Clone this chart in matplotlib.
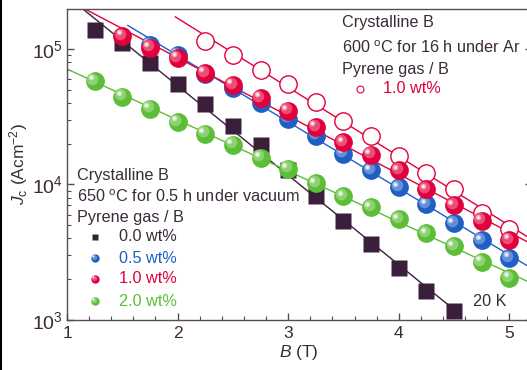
import numpy as np
import matplotlib
matplotlib.use("Agg")
import matplotlib.pyplot as plt
from matplotlib.transforms import offset_copy
from matplotlib.lines import Line2D

plt.rcParams['font.family'] = ['Liberation Sans', 'DejaVu Sans']
plt.rcParams['mathtext.fontset'] = 'custom'
plt.rcParams['mathtext.rm'] = 'Liberation Sans'
plt.rcParams['mathtext.it'] = 'Liberation Sans:italic'
plt.rcParams['mathtext.bf'] = 'Liberation Sans:bold'

# ---------------- data ----------------
B_black = [1.25, 1.5, 1.75, 2.0, 2.25, 2.5, 2.75, 3.0, 3.25, 3.5, 3.75, 4.0, 4.25, 4.5]
J_black = [1.38e5, 1.11e5, 7.9e4, 5.53e4, 3.94e4, 2.72e4, 1.94e4, 1.27e4, 8.2e3, 5.35e3,
           3.62e3, 2.41e3, 1.63e3, 1.16e3]

B_blue = [1.75, 2.0, 2.25, 2.5, 2.75, 3.0, 3.25, 3.5, 3.75, 4.0, 4.25, 4.5, 4.75, 5.0]
J_blue = [1.07e5, 9.0e4, 6.55e4, 5.17e4, 4.01e4, 3.06e4, 2.29e4, 1.69e4, 1.27e4, 9.5e3,
          7.13e3, 5.16e3, 3.87e3, 2.86e3]

B_red = [1.5, 1.75, 2.0, 2.25, 2.5, 2.75, 3.0, 3.25, 3.5, 3.75, 4.0, 4.25, 4.5, 4.75, 5.0]
J_red = [1.25e5, 1.02e5, 8.6e4, 6.67e4, 5.44e4, 4.36e4, 3.5e4, 2.65e4, 2.04e4, 1.66e4,
         1.27e4, 9.2e3, 7.0e3, 5.4e3, 3.9e3]

B_green = [1.25, 1.5, 1.75, 2.0, 2.25, 2.5, 2.75, 3.0, 3.25, 3.5, 3.75, 4.0, 4.25, 4.5, 4.75, 5.0]
J_green = [5.82e4, 4.44e4, 3.62e4, 2.9e4, 2.37e4, 1.97e4, 1.58e4, 1.31e4, 1.02e4, 8.16e3,
           6.78e3, 5.53e3, 4.36e3, 3.5e3, 2.67e3, 2.04e3]

B_open = [2.25, 2.5, 2.75, 3.0, 3.25, 3.5, 3.75, 4.0, 4.25, 4.5, 4.75, 5.0]
J_open = [1.15e5, 9.0e4, 7.0e4, 5.5e4, 4.07e4, 2.96e4, 2.29e4, 1.63e4, 1.22e4, 9.3e3, 6.2e3, 4.7e3]

# B ranges over which the fitted lines are drawn
fit_black = (1.07, 4.5)
fit_blue = (1.55, 5.2)
fit_red = (1.15, 5.2)
fit_green = (1.0, 5.2)
fit_open = (1.98, 5.2)

legend_labels = ['0.0 wt%', '0.5 wt%', '1.0 wt%', '2.0 wt%']
open_label = '1.0 wt%'

# ---------------- style ----------------
c_black = '#3a1f3a'
c_blue = '#1f5fc4'
c_red = '#e2003c'
c_green = '#5cbd36'
c_axis = '#5a4a5a'
c_text = '#3a2a3a'

fig = plt.figure(figsize=(5.27, 3.70), dpi=100)
ax = fig.add_axes([67 / 527, 50 / 370, 464.5 / 527, 311 / 370])
ax.set_yscale('log')
ax.set_xlim(1, 5.2)
ax.set_ylim(1e3, 1.97e5)


def fit_line(B, J, rng, color, z):
    p = np.polyfit(B, np.log10(J), 1)
    xx = np.linspace(rng[0], rng[1], 50)
    ax.plot(xx, 10 ** np.polyval(p, xx), color=color, lw=1.0, zorder=z, clip_on=True)


def light(color, f):
    rgb = np.array(matplotlib.colors.to_rgb(color))
    return tuple(rgb + (1 - rgb) * f)


def balls(x, y, color, ms, z, transform=None, clip=True):
    t = ax.transData if transform is None else transform
    ax.plot(x, y, 'o', ms=ms, mfc=color, mec='none', zorder=z, transform=t, clip_on=clip)
    t1 = offset_copy(t, fig=fig, x=-ms * 0.12, y=ms * 0.12, units='points')
    ax.plot(x, y, 'o', ms=ms * 0.62, mfc=light(color, 0.3), mec='none', zorder=z + 0.1,
            transform=t1, clip_on=clip)
    t2 = offset_copy(t, fig=fig, x=-ms * 0.2, y=ms * 0.2, units='points')
    ax.plot(x, y, 'o', ms=ms * 0.3, mfc=light(color, 0.65), mec='none', zorder=z + 0.2,
            transform=t2, clip_on=clip)
    ax.plot(x, y, 'o', ms=ms * 0.13, mfc='white', mec='none', zorder=z + 0.3,
            transform=t2, clip_on=clip)


fit_line(B_black, J_black, fit_black, c_black, 2)
fit_line(B_green, J_green, fit_green, c_green, 2)
fit_line(B_blue, J_blue, fit_blue, c_blue, 2)
fit_line(B_open, J_open, fit_open, c_red, 2)
fit_line(B_red, J_red, fit_red, c_red, 2)

ax.plot(B_black, J_black, 's', ms=11.5, mfc=c_black, mec='none', zorder=3)
balls(B_green, J_green, c_green, 13.5, 4)
balls(B_blue, J_blue, c_blue, 13.5, 5)
ax.plot(B_open, J_open, 'o', ms=12.5, mfc='white', mec=c_red, mew=1.0, zorder=6)
balls(B_red, J_red, c_red, 13.5, 7)

# ---------------- axes styling ----------------
for s in ax.spines.values():
    s.set_color(c_axis)
    s.set_linewidth(1.0)
ax.xaxis.set_major_locator(matplotlib.ticker.MultipleLocator(1))
ax.xaxis.set_minor_locator(matplotlib.ticker.MultipleLocator(0.2))
ax.tick_params(which='both', direction='in', colors=c_axis, labelcolor=c_text,
               top=False, right=True)
ax.tick_params(axis='x', labelsize=12.5, pad=4)
ax.tick_params(axis='y', labelsize=14, pad=3)
ax.tick_params(which='major', length=5, width=1.0)
ax.tick_params(which='minor', length=3, width=0.8)

ax.set_xlabel(r'$\it{B}$ (T)', fontsize=12.5, color=c_text, labelpad=2)
ax.set_ylabel(r'$\it{J}_{\rm c}$ (Acm$^{-2}$)', fontsize=12.5, color=c_text, labelpad=1)

# ---------------- annotations ----------------
fs = 11.7
tr = ax.transAxes
ax.text(0.0215, 0.466, 'Crystalline B', transform=tr, fontsize=fs, color=c_text, va='center')
ax.text(0.0215, 0.395, r'650 $^{\rm o}$C for 0.5 h under vacuum', transform=tr, fontsize=fs,
        color=c_text, va='center')
ax.text(0.0215, 0.331, 'Pyrene gas / B', transform=tr, fontsize=fs, color=c_text, va='center')
leg_y = [0.267, 0.199, 0.132, 0.061]
leg_c = [c_black, c_blue, c_red, c_green]
for i, (lab, col, yy) in enumerate(zip(legend_labels, leg_c, leg_y)):
    if i == 0:
        ax.plot([0.0603], [yy], 's', ms=5, mfc=col, mec='none', transform=tr, clip_on=False, zorder=8)
    else:
        balls([0.0603], [yy], col, 6, 8, transform=tr, clip=False)
    ax.text(0.112, yy, lab, transform=tr, fontsize=fs, color=col if i else c_text, va='center')

ax.text(0.592, 0.955, 'Crystalline B', transform=tr, fontsize=fs, color=c_text, va='center')
ax.text(0.592, 0.875, r'600 $^{\rm o}$C for 16 h under Ar', transform=tr, fontsize=fs,
        color=c_text, va='center')
ax.text(0.592, 0.807, 'Pyrene gas / B', transform=tr, fontsize=fs, color=c_text, va='center')
ax.plot([0.631], [0.743], 'o', ms=5, mfc='white', mec=c_red, mew=0.8, transform=tr, zorder=8)
ax.text(0.680, 0.743, open_label, transform=tr, fontsize=fs, color=c_red, va='center')

ax.text(0.874, 0.058, '20 K', transform=tr, fontsize=fs, color=c_text, va='center')

fig.add_artist(Line2D([0.002, 0.002], [0, 1], transform=fig.transFigure, color='black', lw=1.5))

fig.savefig('out.png', dpi=100)
